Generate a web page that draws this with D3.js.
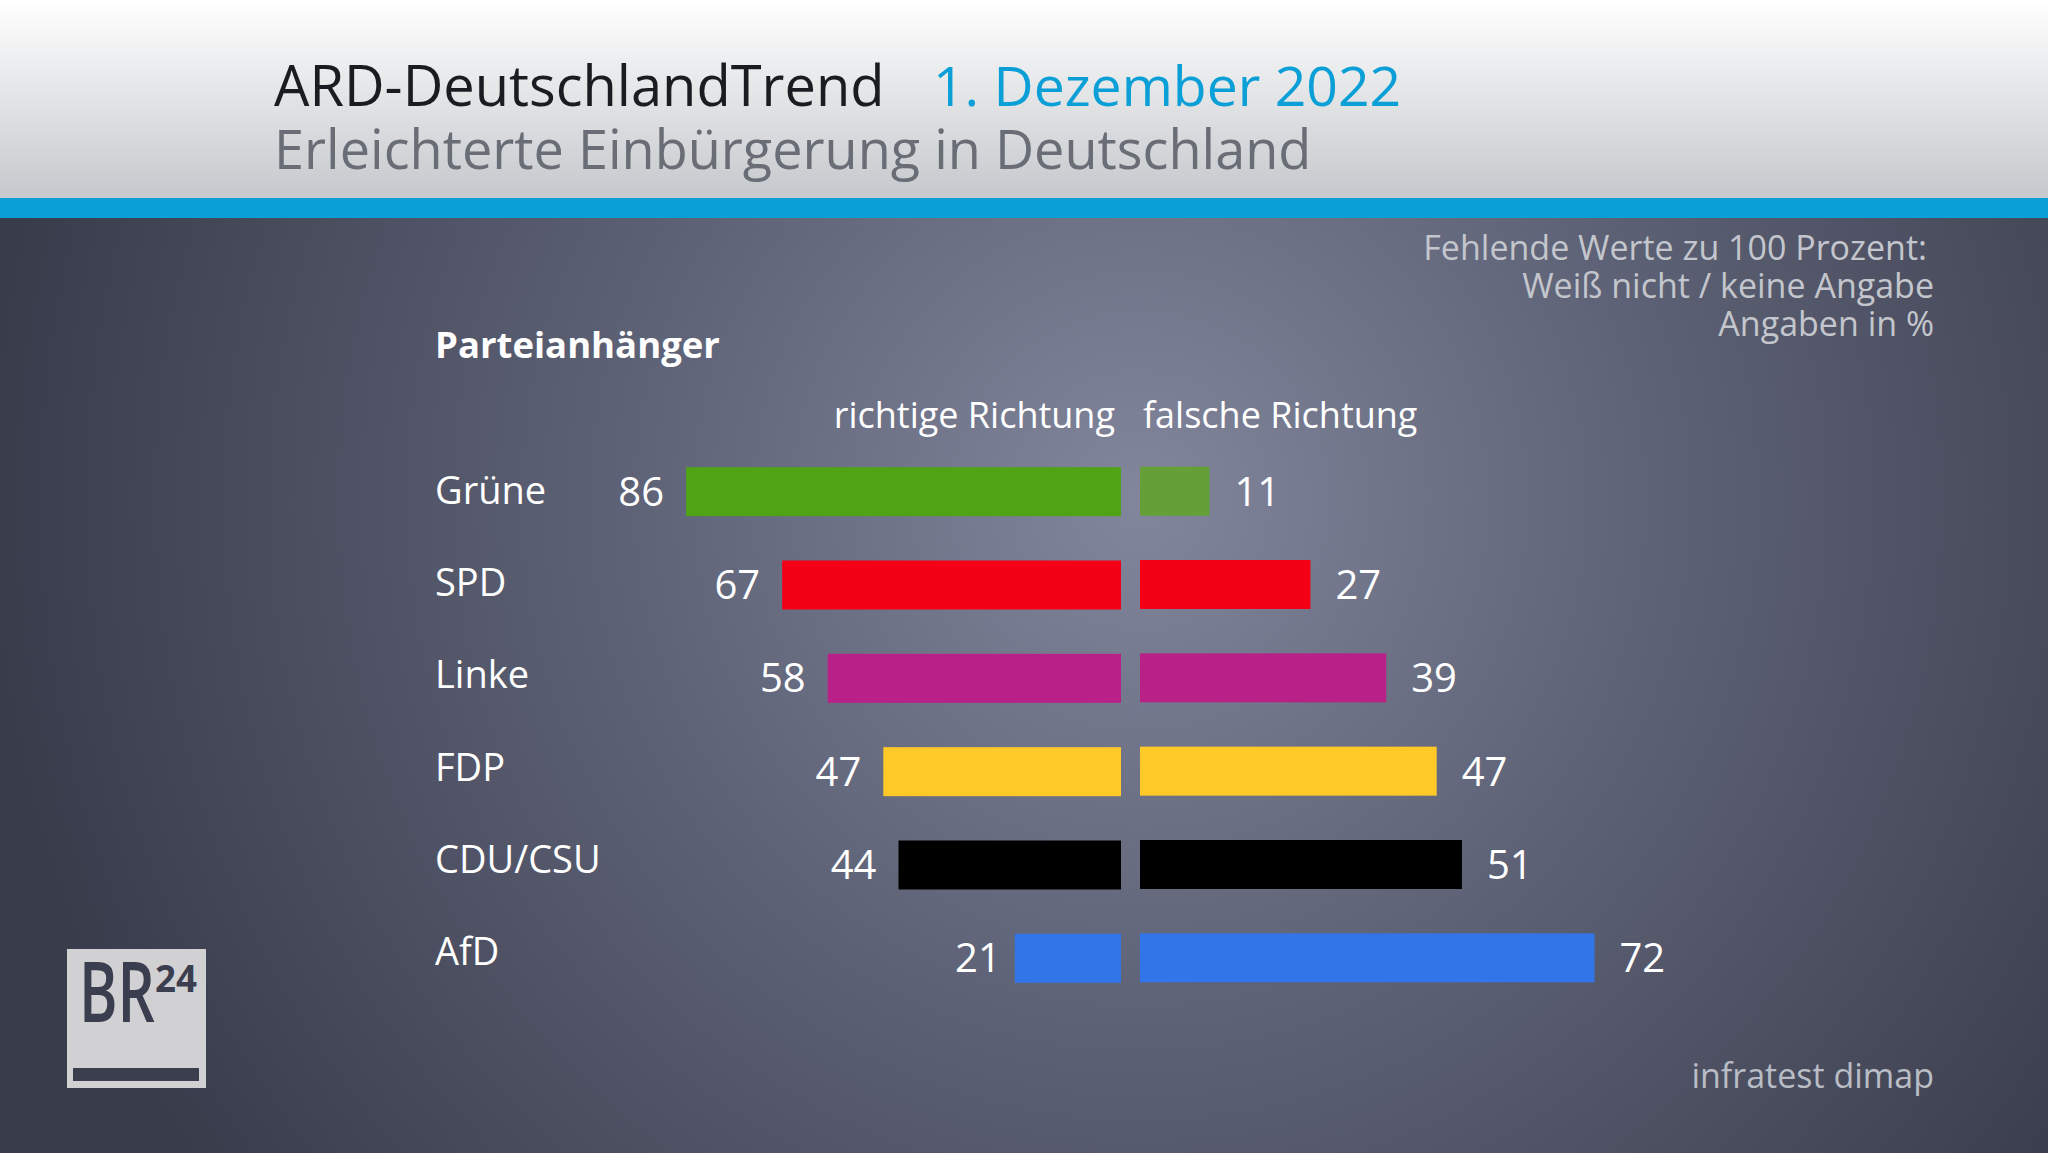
<!DOCTYPE html>
<html><head><meta charset="utf-8">
<script src="https://cdn.jsdelivr.net/npm/d3@7"></script>
<style>
html,body{margin:0;padding:0;background:#3b3e4e;overflow:hidden}
svg{display:block}
text{font-family:"Open Sans","Noto Sans",sans-serif}
</style></head>
<body>
<script>
const parties = ["Grüne","SPD","Linke","FDP","CDU/CSU","AfD"];
const richtig = [86,67,58,47,44,21];
const falsch = [11,27,39,47,51,72];
const colorsLeft = ["#51a316","#f40016","#b82187","#ffca27","#000000","#3175e8"];
const colorsRight = ["#659f38","#f40016","#b82187","#ffca27","#000000","#3175e8"];
const titleText = "ARD-DeutschlandTrend";
const dateText = "1. Dezember 2022";
const subtitleText = "Erleichterte Einbürgerung in Deutschland";
const noteLines = ["Fehlende Werte zu 100 Prozent:","Weiß nicht / keine Angabe","Angaben in %"];
const groupLabel = "Parteianhänger";
const colHeaders = ["richtige Richtung","falsche Richtung"];
const sourceText = "infratest dimap";

const W = 2048, H = 1153;
const svg = d3.select("body").append("svg").attr("width", W).attr("height", H);
const defs = svg.append("defs");

const rg = defs.append("radialGradient").attr("id","bg").attr("gradientUnits","userSpaceOnUse")
  .attr("cx",1140).attr("cy",500).attr("r",1150);
rg.append("stop").attr("offset",0).attr("stop-color","#81869c");
rg.append("stop").attr("offset",0.45).attr("stop-color","#5e6276");
rg.append("stop").attr("offset",1).attr("stop-color","#393c4b");

const hg = defs.append("linearGradient").attr("id","hdr").attr("x1",0).attr("y1",0).attr("x2",0).attr("y2",1);
hg.append("stop").attr("offset",0).attr("stop-color","#ffffff");
hg.append("stop").attr("offset",1).attr("stop-color","#c5c8cc");

svg.append("rect").attr("width",W).attr("height",H).attr("fill","url(#bg)");
svg.append("rect").attr("width",W).attr("height",199).attr("fill","url(#hdr)");
svg.append("rect").attr("y",198).attr("width",W).attr("height",20).attr("fill","#0a9fd6");

// Header
svg.append("text").attr("x",274).attr("y",106).attr("font-size",56).attr("fill","#1b1c21").text(titleText);
svg.append("text").attr("x",933).attr("y",106).attr("font-size",55.3).attr("fill","#0a9fd6").text(dateText);
svg.append("text").attr("x",274).attr("y",169).attr("font-size",54).attr("fill","#686d76").text(subtitleText);

// Note
svg.append("g").selectAll("text").data(noteLines).join("text")
  .attr("x",(d,i)=> i===0 ? 1927 : 1934).attr("y",(d,i)=>260+i*38)
  .attr("text-anchor","end").attr("font-size",34).attr("fill","#c3c6cc").text(d=>d);

svg.append("text").attr("x",435).attr("y",358).attr("font-size",36.5).attr("font-weight",700)
  .attr("fill","#ffffff").text(groupLabel);

svg.append("text").attr("x",1115).attr("y",428).attr("text-anchor","end").attr("font-size",36)
  .attr("fill","#ffffff").text(colHeaders[0]);
svg.append("text").attr("x",1143).attr("y",428).attr("font-size",36)
  .attr("fill","#ffffff").text(colHeaders[1]);

// Scales
const y = d3.scaleBand().domain(parties).range([445,1005]).paddingInner(0.475).paddingOuter(0.2375);
const yLab = d3.scalePoint().domain(parties).range([491,952]);
const xL = d3.scaleLinear().domain([0,100]).range([1121, 1121-505.7]);
const xR = d3.scaleLinear().domain([0,100]).range([1140, 1140+631.25]);

const rows = parties.map((p,i)=>({p, r:richtig[i], f:falsch[i], cl:colorsLeft[i], cr:colorsRight[i]}));
const g = svg.append("g");

g.selectAll("rect.l").data(rows).join("rect").attr("class","l")
  .attr("x",d=>xL(d.r)).attr("width",d=>xL(0)-xL(d.r))
  .attr("y",d=>y(d.p)).attr("height",y.bandwidth()).attr("fill",d=>d.cl);
g.selectAll("rect.r").data(rows).join("rect").attr("class","r")
  .attr("x",xR(0)).attr("width",d=>xR(d.f)-xR(0))
  .attr("y",d=>y(d.p)-0.5).attr("height",y.bandwidth()).attr("fill",d=>d.cr);

const cy = d=> y(d.p)+y.bandwidth()/2;
g.selectAll("text.party").data(rows).join("text").attr("class","party")
  .attr("x",435).attr("y",d=>yLab(d.p)+13).attr("font-size",38).attr("fill","#ffffff").text(d=>d.p);
g.selectAll("text.vl").data(rows).join("text").attr("class","vl")
  .attr("x",d=>xL(d.r)-(d.r===21?14:22)).attr("y",d=>cy(d)+14).attr("text-anchor","end")
  .attr("font-size",40).attr("font-weight",500).attr("fill","#ffffff").text(d=>d.r);
g.selectAll("text.vr").data(rows).join("text").attr("class","vr")
  .attr("x",d=>xR(d.f)+25).attr("y",d=>cy(d)+14)
  .attr("font-size",40).attr("font-weight",500).attr("fill","#ffffff").text(d=>d.f);

// Source
svg.append("text").attr("x",1934).attr("y",1088).attr("text-anchor","end").attr("font-size",34)
  .attr("fill","#b9bdc5").text(sourceText);

// Logo
const logo = svg.append("g");
logo.append("rect").attr("x",67).attr("y",949).attr("width",139).attr("height",139).attr("fill","#d1d1d4");
logo.append("rect").attr("x",73).attr("y",1068).attr("width",126).attr("height",13).attr("fill","#3b3e4e");
logo.append("text").attr("x",79).attr("y",1022).attr("font-size",84).attr("font-weight",600)
  .attr("textLength",76).attr("lengthAdjust","spacingAndGlyphs").attr("fill","#3b3e4e").text("BR");
logo.append("text").attr("x",155).attr("y",992).attr("font-size",38).attr("font-weight",700)
  .attr("textLength",42).attr("lengthAdjust","spacingAndGlyphs").attr("fill","#3b3e4e").text("24");
</script>
</body></html>
